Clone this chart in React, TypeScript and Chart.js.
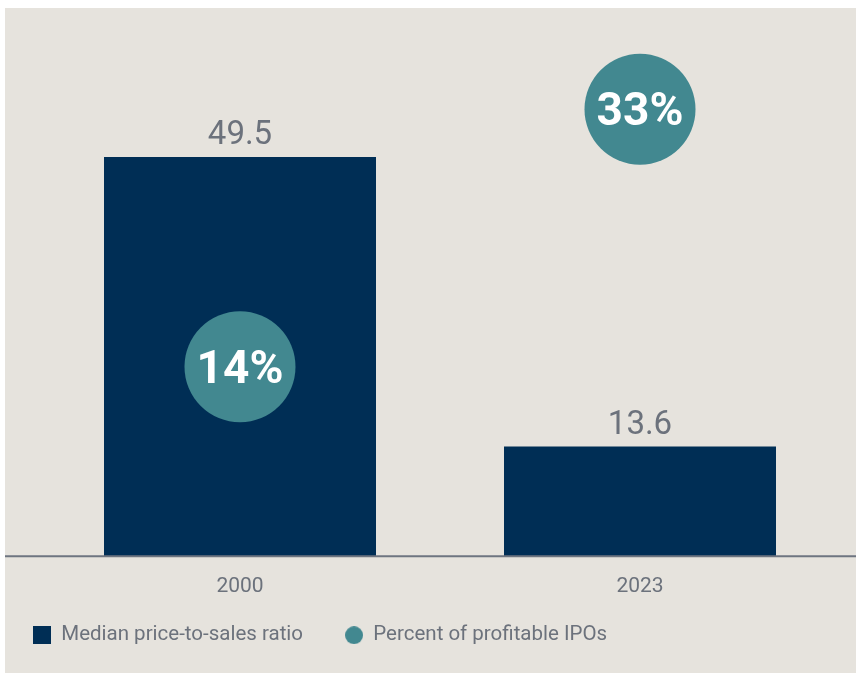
import React, { useEffect, useRef } from 'react';
import { Chart, registerables } from 'chart.js';

Chart.register(...registerables);

// ---- data ----
const categories = ['2000', '2023'];
const priceToSalesRatio = [49.5, 13.6];
const profitableIpoPct = [14, 33];
const seriesNames = ['Median price-to-sales ratio', 'Percent of profitable IPOs'];
const Y_MAX = 65.5;
const Y2_MAX = 39;

// ---- styles ----
const BG = '#E6E3DD';
const NAVY = '#002E55';
const TEAL = '#428890';
const TEXT = '#6C727C';
const AXIS = '#6E7580';
const FONT = 'Roboto, "Liberation Sans", sans-serif';

function makeSwatch(shape: 'rect' | 'circle', color: string, size: number) {
  const c = document.createElement('canvas');
  c.width = size;
  c.height = size;
  const g = c.getContext('2d')!;
  g.fillStyle = color;
  if (shape === 'rect') {
    g.fillRect(0, 0, size, size);
  } else {
    g.beginPath();
    g.arc(size / 2, size / 2, size / 2, 0, Math.PI * 2);
    g.fill();
  }
  return c;
}

const LEGEND_PAD = 42;

const decoPlugin = {
  id: 'deco',
  beforeDraw(chart: any) {
    const lg = chart.legend;
    if (lg) {
      lg.left = 28 - LEGEND_PAD;
      lg.top = 617 - LEGEND_PAD;
    }
  },
  afterDatasetsDraw(chart: any) {
    const ctx = chart.ctx;
    const area = chart.chartArea;
    ctx.save();
    ctx.strokeStyle = AXIS;
    ctx.lineWidth = 2;
    ctx.beginPath();
    ctx.moveTo(0, area.bottom);
    ctx.lineTo(chart.width, area.bottom);
    ctx.stroke();

    const barMeta = chart.getDatasetMeta(0);
    ctx.fillStyle = TEXT;
    ctx.textAlign = 'center';
    ctx.textBaseline = 'alphabetic';
    ctx.font = `33px ${FONT}`;
    barMeta.data.forEach((el: any, i: number) => {
      ctx.fillText(String(priceToSalesRatio[i]), el.x, el.y - 13);
    });

    const ptMeta = chart.getDatasetMeta(1);
    ctx.fillStyle = '#FFFFFF';
    ctx.font = `bold 46px ${FONT}`;
    ptMeta.data.forEach((el: any, i: number) => {
      ctx.fillText(`${profitableIpoPct[i]}%`, el.x, el.y + 16);
    });
    ctx.restore();
  },
};

export default function App() {
  const ref = useRef<HTMLCanvasElement>(null);

  useEffect(() => {
    const swatches = [makeSwatch('rect', NAVY, 18), makeSwatch('circle', TEAL, 18)];
    const chart = new Chart(ref.current!, {
      type: 'bar',
      data: {
        labels: categories,
        datasets: [
          {
            type: 'bar',
            label: seriesNames[0],
            data: priceToSalesRatio,
            backgroundColor: NAVY,
            yAxisID: 'y',
            barPercentage: 0.68,
            categoryPercentage: 1,
            order: 1,
          } as any,
          {
            type: 'line',
            label: seriesNames[1],
            data: profitableIpoPct,
            yAxisID: 'y2',
            showLine: false,
            clip: false,
            pointRadius: 55.5,
            pointHoverRadius: 55.5,
            pointBackgroundColor: TEAL,
            pointBorderWidth: 0,
            backgroundColor: TEAL,
            borderColor: TEAL,
            order: 0,
          } as any,
        ],
      },
      options: {
        animation: false,
        responsive: true,
        maintainAspectRatio: false,
        events: [],
        layout: { autoPadding: false, padding: { top: 20, left: 0, right: 0, bottom: 0 } },
        scales: {
          x: {
            grid: { display: false, drawTicks: false },
            border: { display: false },
            ticks: { color: TEXT, font: { family: FONT, size: 21 }, padding: 18 },
            afterFit: (s: any) => {
              s.height = s.height - 17;
            },
          },
          y: {
            min: 0,
            max: Y_MAX,
            grid: { display: false, drawTicks: false },
            border: { display: false },
            ticks: { display: false },
            afterFit: (s: any) => {
              s.width = 35;
            },
          },
          y2: {
            position: 'right',
            min: 0,
            max: Y2_MAX,
            grid: { display: false, drawTicks: false },
            border: { display: false },
            ticks: { display: false },
            afterFit: (s: any) => {
              s.width = 16;
            },
          },
        } as any,
        plugins: {
          tooltip: { enabled: false },
          legend: {
            position: 'bottom',
            align: 'start',
            labels: {
              usePointStyle: true,
              boxWidth: 18,
              boxHeight: 18,
              padding: LEGEND_PAD,
              color: TEXT,
              font: { family: FONT, size: 20.5 },
              sort: (a: any, b: any) => a.datasetIndex - b.datasetIndex,
              generateLabels: (c: any) =>
                c.data.datasets.map((ds: any, i: number) => ({
                  text: ds.label,
                  pointStyle: swatches[i],
                  fillStyle: i === 0 ? NAVY : TEAL,
                  strokeStyle: 'rgba(0,0,0,0)',
                  lineWidth: 0,
                  hidden: false,
                  datasetIndex: i,
                  fontColor: TEXT,
                })),
            },
          },
        },
      },
      plugins: [decoPlugin],
    });
    return () => chart.destroy();
  }, []);

  return (
    <div
      style={{
        position: 'absolute',
        left: 5,
        top: 8,
        width: 851,
        height: 665,
        background: BG,
      }}
    >
      <canvas ref={ref} style={{ display: 'block' }} />
    </div>
  );
}
